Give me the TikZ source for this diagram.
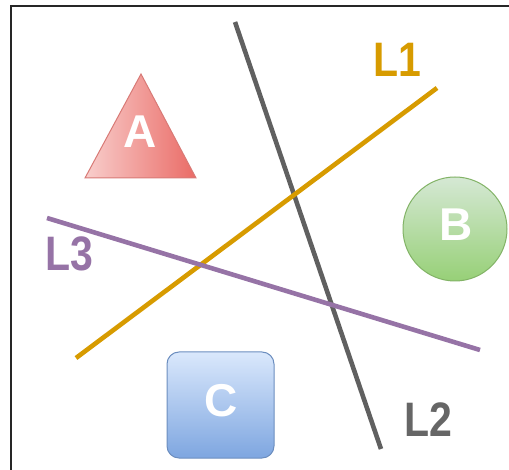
\documentclass[tikz,border=0pt]{standalone}
\usepackage{fontspec}
\usepackage{graphicx}
\setmainfont{Liberation Sans}
\definecolor{lorange}{HTML}{D79B00}
\definecolor{lgray}{HTML}{606060}
\definecolor{lpurple}{HTML}{9673A6}
\definecolor{tlabel}{HTML}{666666}
\definecolor{redlight}{HTML}{F8CECC}
\definecolor{reddark}{HTML}{EA6B66}
\definecolor{redstroke}{HTML}{D87A76}
\definecolor{grnlight}{HTML}{D5E8D4}
\definecolor{grndark}{HTML}{97D077}
\definecolor{grnstroke}{HTML}{82B366}
\definecolor{blulight}{HTML}{DAE8FC}
\definecolor{bludark}{HTML}{7EA6E0}
\definecolor{blustroke}{HTML}{6C8EBF}
\newcommand{\tallbig}[1]{\scalebox{1}[1.18]{#1}}
\tikzset{
  linestyle/.style={line width=4.6pt},
  biglabel/.style={font=\bfseries\fontsize{41}{41}\selectfont, inner sep=0pt},
  shapelabel/.style={font=\bfseries\fontsize{46}{46}\selectfont, text=white, inner sep=0pt},
}
\begin{document}
\begin{tikzpicture}[x=1pt,y=-1pt]
\useasboundingbox (0,0) rectangle (509,470);
% frame
\draw[line width=2pt, black!85] (11,472) -- (11,6) -- (512,6);
% shapes
\path[draw=redstroke, line width=1pt, left color=redlight, right color=reddark] (141,74) -- (196,178) -- (85,178) -- cycle;
\node[shapelabel] (A) at (140.5,131.5) {A};
\path[draw=grnstroke, line width=1pt, top color=grnlight, bottom color=grndark] (455,229) circle (52);
\node[shapelabel] (B) at (456,225) {B};
\path[draw=blustroke, line width=1pt, top color=blulight, bottom color=bludark, rounded corners=12pt] (167,352) rectangle (274,458);
\node[shapelabel] (C) at (221,401) {C};
% lines
\draw[linestyle, lgray] (235,22) -- (381,449);
\draw[linestyle, lorange] (76,358) -- (437,88);
\draw[linestyle, lpurple] (47,218) -- (480,350);
% labels
\node[biglabel, text=lorange] (L1) at (397.5,59.5) {\tallbig{L1}};
\node[biglabel, text=tlabel] (L2) at (428,420) {\tallbig{L2}};
\node[biglabel, text=lpurple] (L3) at (69.5,254) {\tallbig{L3}};
\end{tikzpicture}
\end{document}
